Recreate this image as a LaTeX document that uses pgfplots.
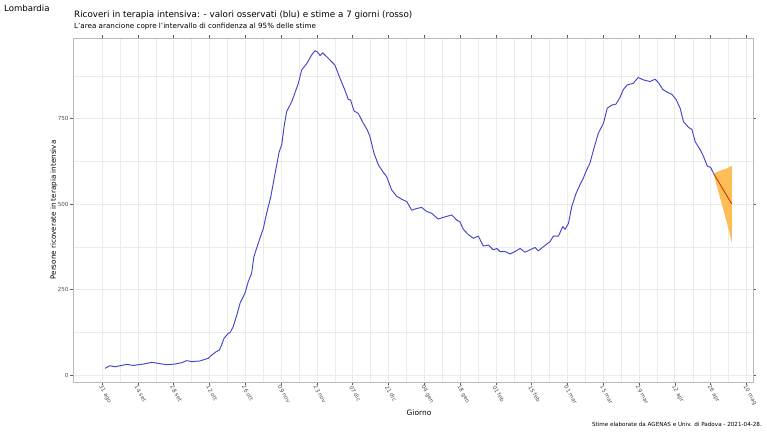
\documentclass[border=0pt]{standalone}
\usepackage{fontspec}
\setmainfont{DejaVu Sans}
\usepackage{pgfplots}
\pgfplotsset{compat=1.18}
\definecolor{obsblue}{RGB}{70,70,205}
\definecolor{estred}{RGB}{208,48,16}
\definecolor{bandorange}{RGB}{253,190,85}
\definecolor{gridgray}{RGB}{235,235,235}
\definecolor{tickgray}{RGB}{77,77,77}
\begin{document}
\begin{tikzpicture}[x=1bp,y=1bp]
\useasboundingbox[fill=white] (0,0) rectangle (767,431);
\node[anchor=west,font=\fontsize{8.6}{10}\selectfont,inner sep=0pt] at (4,423) {Lombardia};
\node[anchor=west,font=\fontsize{8.8}{10}\selectfont,inner sep=0pt] at (74,415.5) {Ricoveri in terapia intensiva: - valori osservati (blu) e stime a 7 giorni (rosso)};
\node[anchor=west,font=\fontsize{7.2}{8}\selectfont,inner sep=0pt] at (74,404.5) {L'area arancione copre l'intervallo di confidenza al 95\% delle stime};
\node[font=\fontsize{7.5}{9}\selectfont] at (419,18.3) {Giorno};
\node[anchor=east,font=\fontsize{5.65}{7}\selectfont,inner sep=0pt] at (762,7) {Stime elaborate da AGENAS e Univ. di Padova - 2021-04-28.};
\node[rotate=90,font=\fontsize{7.2}{9}\selectfont] at (54,221) {Persone ricoverate in terapia intensiva};
\begin{axis}[
  at={(73bp,49bp)}, anchor=south west,
  width=680bp, height=344bp, scale only axis,
  xmin=-11.34, xmax=254.6, ymin=-20.5, ymax=985.4,
  axis line style={draw=gray!55},
  xtick={0,14,...,252},
  xticklabels={31 ago,14 set,28 set,12 ott,26 ott,09 nov,23 nov,07 dic,21 dic,04 gen,18 gen,01 feb,15 feb,01 mar,15 mar,29 mar,12 apr,26 apr,10 mag},
  minor xtick={7,21,...,245},
  ytick={0,250,500,750},
  minor ytick={125,375,625,875},
  grid=both,
  major grid style={draw=gridgray,line width=0.55bp},
  minor grid style={draw=gridgray,line width=0.3bp},
  tick align=outside,
  major tick length=2.8bp, minor tick length=0pt,
  tick style={draw=gray!70!black,line width=0.5bp},
  xticklabel style={rotate=-60,anchor=west,font=\fontsize{5.6}{6}\selectfont,text=tickgray,inner sep=0.5bp,yshift=-2bp,xshift=-0.5bp},
  yticklabel style={font=\fontsize{5.6}{6}\selectfont,text=tickgray,inner sep=1.5bp},
  /pgf/number format/assume math mode=true,
  /pgf/number format/1000 sep={},
  clip=false,
]
\addplot[fill=bandorange,draw=none] coordinates {(239.5,590)(241.6,597)(244.3,604)(246.3,612)(246.3,387)(244.3,448)(241.6,521)(239.5,580)} -- cycle;
\addplot[obsblue,line width=0.95bp,line join=round] coordinates {
(1.2,19.5)(3.1,27)(5.1,24)(9.7,31)(12.2,28)(16.2,32)(19.4,37)(22,34)(25.3,30)(28.5,32)(31.2,36)(33.1,42)(35.1,39)(38.3,41)(41.6,49)(42.9,58)(44.6,68)(45.9,73)(46.8,88)(47.7,107)(49.4,122)(50.1,124)(51.3,141)(52.7,175)(54,210)(55.9,239)(57.2,273)(58.5,297)(59.4,346)(61.1,385)(63.1,429)(64.4,473)(66,521)(67.7,590)(69.3,653)(70.3,673)(71.2,726)(72.2,770)(74.2,799)(76.8,853)(78.1,892)(80.1,911)(82,936)(83.3,948)(84.2,945)(85.3,934)(86.3,942)(88.5,926)(91.1,906)(93.1,867)(95,833)(96.3,806)(97.2,804)(98.6,772)(100.2,765)(100.9,755)(102.2,736)(103.8,716)(104.8,697)(106.4,648)(108.1,614)(109.8,595)(111.3,580)(113.3,541)(115.2,523)(117.2,514)(119.2,507)(121.1,482)(123.1,487)(125,490)(127,478)(128.9,473)(131.5,456)(133.5,461)(135.4,465)(136.8,468)(138.7,453)(140,448)(141.3,426)(143.2,411)(145.2,400)(147.2,406)(149.1,377)(151.1,380)(153,366)(154.4,370)(155.6,361)(157.6,361)(159.6,354)(161.5,361)(163.5,370)(165.4,359)(167.4,366)(169.4,373)(170.6,363)(172.6,375)(175.2,390)(176.5,406)(178.5,406)(180.2,434)(181.1,426)(182.4,443)(183.7,492)(185.4,531)(186.9,556)(188.2,575)(189.5,599)(190.8,619)(192.4,663)(194.1,707)(196.1,736)(197.6,780)(199.3,789)(201,792)(202.6,812)(203.9,835)(205.4,848)(207.8,853)(209.7,870)(211.7,863)(214.3,858)(216.3,865)(217.6,855)(219.3,835)(220.8,828)(222.8,821)(224.5,806)(226.1,780)(227.4,741)(229.4,724)(230.7,718)(232,682)(234,658)(235.3,638)(236.7,611)(238,607)(239.5,585)
};
\addplot[estred,line width=0.9bp] coordinates {(239.5,585)(246.3,500)};
\end{axis}
\end{tikzpicture}
\end{document}
